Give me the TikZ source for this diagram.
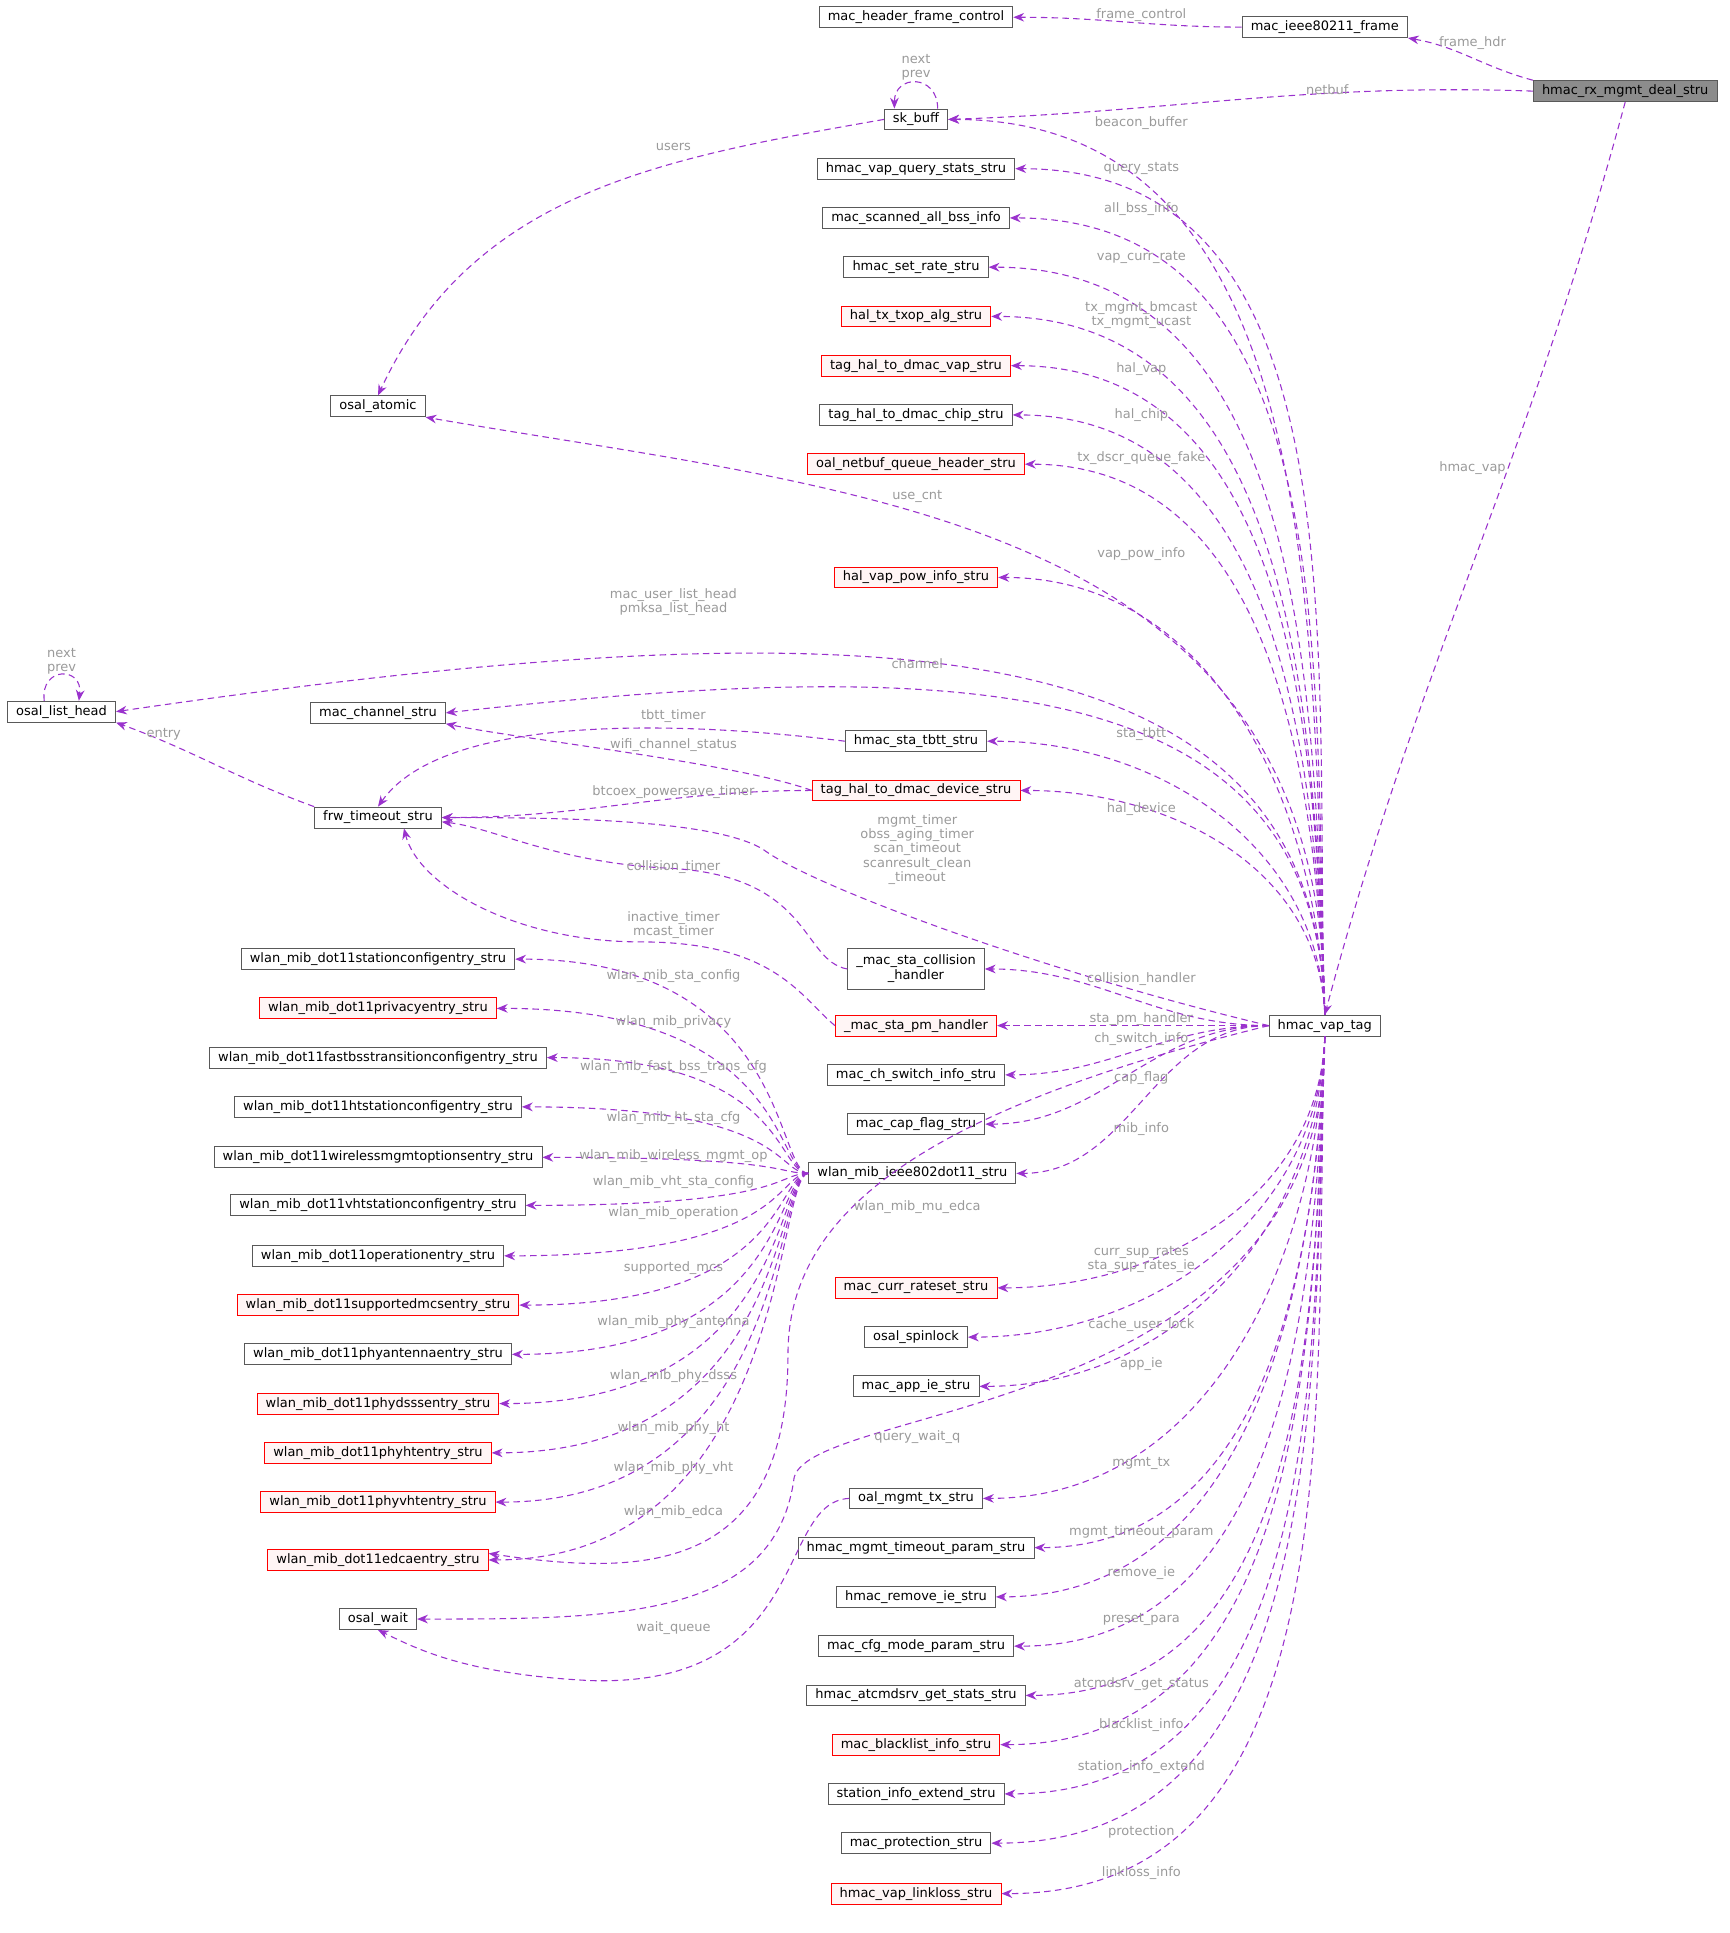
\documentclass[tikz,border=0pt]{standalone}
\usepackage{fontspec}
\setmainfont{DejaVu Sans}
\usetikzlibrary{arrows.meta}
\definecolor{ec}{HTML}{9A32CD}
\definecolor{lc}{HTML}{9A9A9A}
\begin{document}
\begin{tikzpicture}[x=0.02cm,y=-0.02cm,
 box/.style={draw=black!65,fill=white,font=\fontsize{6}{7}\selectfont,inner xsep=4pt,inner ysep=1pt,minimum height=0.34cm,line width=0.4pt,align=center},
 rbox/.style={box,draw=red,fill=red!4},
 gbox/.style={box,fill=black!45},
 e/.style={draw=ec,line width=0.5pt,dash pattern=on 3pt off 2pt,-{Stealth[length=5pt,width=4pt]}},
 l/.style={text=lc,font=\fontsize{6}{6.5}\selectfont,align=center,inner sep=0pt}]
\useasboundingbox (0,0) rectangle (1405,1570);
\coordinate (cx) at (640,0);
% nodes
\node[box] (hfc) at (744,14) {mac\_header\_frame\_control};
\node[box] (fr) at (1076,22) {mac\_ieee80211\_frame};
\node[gbox] (rx) at (1320,74) {hmac\_rx\_mgmt\_deal\_stru};
\node[box] (sk) at (744,97) {sk\_buff};
\node[box] (qs) at (744,137) {hmac\_vap\_query\_stats\_stru};
\node[box] (sab) at (744,177) {mac\_scanned\_all\_bss\_info};
\node[box] (sr) at (744,217) {hmac\_set\_rate\_stru};
\node[rbox] (txop) at (744,257) {hal\_tx\_txop\_alg\_stru};
\node[rbox] (hvap) at (744,297) {tag\_hal\_to\_dmac\_vap\_stru};
\node[box] (hchip) at (744,337) {tag\_hal\_to\_dmac\_chip\_stru};
\node[rbox] (nq) at (744,377) {oal\_netbuf\_queue\_header\_stru};
\node[box] (oa) at (307,330) {osal\_atomic};
\node[rbox] (pow) at (744,469) {hal\_vap\_pow\_info\_stru};
\node[box] (olh) at (50,578) {osal\_list\_head};
\node[box] (mch) at (307,579) {mac\_channel\_stru};
\node[box] (tbtt) at (744,602) {hmac\_sta\_tbtt\_stru};
\node[rbox] (dev) at (744,642) {tag\_hal\_to\_dmac\_device\_stru};
\node[box] (frw) at (307,664) {frw\_timeout\_stru};
\node[box,minimum height=0.66cm] (col) at (744,787) {\_mac\_sta\_collision\\\_handler};
\node[rbox] (pm) at (744,833) {\_mac\_sta\_pm\_handler};
\node[box] (hv) at (1076,833) {hmac\_vap\_tag};
\node[box] (chs) at (744,873) {mac\_ch\_switch\_info\_stru};
\node[box] (cap) at (744,913) {mac\_cap\_flag\_stru};
\node[box] (wl) at (741,953) {wlan\_mib\_ieee802dot11\_stru};
\node[box] (m1) at (307,779) {wlan\_mib\_dot11stationconfigentry\_stru};
\node[rbox] (m2) at (307,819) {wlan\_mib\_dot11privacyentry\_stru};
\node[box] (m3) at (307,859) {wlan\_mib\_dot11fastbsstransitionconfigentry\_stru};
\node[box] (m4) at (307,899) {wlan\_mib\_dot11htstationconfigentry\_stru};
\node[box] (m5) at (307,940) {wlan\_mib\_dot11wirelessmgmtoptionsentry\_stru};
\node[box] (m6) at (307,979) {wlan\_mib\_dot11vhtstationconfigentry\_stru};
\node[box] (m7) at (307,1020) {wlan\_mib\_dot11operationentry\_stru};
\node[rbox] (m8) at (307,1060) {wlan\_mib\_dot11supportedmcsentry\_stru};
\node[box] (m9) at (307,1100) {wlan\_mib\_dot11phyantennaentry\_stru};
\node[rbox] (m10) at (307,1140) {wlan\_mib\_dot11phydsssentry\_stru};
\node[rbox] (m11) at (307,1180) {wlan\_mib\_dot11phyhtentry\_stru};
\node[rbox] (m12) at (307,1220) {wlan\_mib\_dot11phyvhtentry\_stru};
\node[rbox] (ed) at (307,1267) {wlan\_mib\_dot11edcaentry\_stru};
\node[box] (ow) at (307,1315) {osal\_wait};
\node[rbox] (crs) at (744,1046) {mac\_curr\_rateset\_stru};
\node[box] (spl) at (744,1086) {osal\_spinlock};
\node[box] (aie) at (744,1126) {mac\_app\_ie\_stru};
\node[box] (omt) at (744,1217) {oal\_mgmt\_tx\_stru};
\node[box] (mtp) at (744,1257) {hmac\_mgmt\_timeout\_param\_stru};
\node[box] (rie) at (744,1297) {hmac\_remove\_ie\_stru};
\node[box] (cmp) at (744,1337) {mac\_cfg\_mode\_param\_stru};
\node[box] (ats) at (744,1377) {hmac\_atcmdsrv\_get\_stats\_stru};
\node[rbox] (bl) at (744,1417) {mac\_blacklist\_info\_stru};
\node[box] (sie) at (744,1457) {station\_info\_extend\_stru};
\node[box] (prot) at (744,1497) {mac\_protection\_stru};
\node[rbox] (ll) at (744,1538) {hmac\_vap\_linkloss\_stru};
% edges
\draw[e] (rx.north west) to[out=165,in=-10] (fr.south east);
\draw[e] (fr.west) to[out=180,in=0] (hfc.east);
\draw[e] (rx.west) to[out=178,in=2] (sk.east);
\draw[e] (rx.south) to[out=-105,in=75] (hv.north);
\draw[e] ([xshift=10pt]sk.north) .. controls +(0,16pt) and +(0,16pt) .. ([xshift=-10pt]sk.north);
\draw[e] (sk.west) to[out=190,in=65] (oa.north);
\foreach \t in {sk,qs,sab,sr,txop,hvap,hchip,nq,pow,tbtt,dev}
  \draw[e] (hv.north) to[out=92,in=0] (\t.east);
\draw[e] (hv.north) .. controls (1076,420) and (700,400) .. (oa.south east);
\draw[e] (hv.north) .. controls (1070,500) and (700,490) .. (olh.east);
\draw[e] (hv.north) .. controls (1070,550) and (800,530) .. (mch.east);
\draw[e] ([xshift=-8pt]olh.north) .. controls +(-2pt,16pt) and +(2pt,16pt) .. ([xshift=8pt]olh.north);
\draw[e] (tbtt.west) .. controls (550,585) and (360,580) .. (frw.north);
\draw[e] (dev.west) .. controls (600,620) and (420,600) .. (mch.south east);
\draw[e] (dev.west) to[out=180,in=0] (frw.east);
\draw[e] (frw.north west) to[out=160,in=-20] (olh.south east);
\draw[e] (hv.west) .. controls (850,790) and (660,720) .. (620,690) .. controls (580,665) and (450,664) .. (frw.east);
\draw[e] (col.west) .. controls (650,780) and (660,710) .. (540,705) .. controls (450,700) and (400,672) .. ([yshift=-2pt]frw.east);
\draw[e] (pm.west) .. controls (650,810) and (630,765) .. (520,765) .. controls (420,765) and (340,720) .. ([xshift=12pt]frw.south);
\foreach \t in {col,pm,chs,cap,wl}
  \draw[e] (hv.west) to[out=180,in=0] (\t.east);
\foreach \t in {m1,m2,m3,m4,m5,m6,m7,m8,m9,m10,m11,m12,ed}
  \draw[e] (wl.west) .. controls (630,953) and (cx |- \t.east) .. (\t.east);
\draw[e] (hv.west) .. controls (760,900) and (640,980) .. (640,1100) .. controls (640,1280) and (520,1280) .. ([yshift=3pt]ed.east);
\draw[e] (hv.south) .. controls (1076,1150) and (660,1140) .. (645,1200) .. controls (630,1315) and (500,1315) .. (ow.east);
\draw[e] (omt.west) .. controls (630,1220) and (660,1370) .. (480,1365) .. controls (380,1360) and (340,1340) .. (ow.south);
\foreach \t in {crs,spl,aie,omt,mtp,rie,cmp,ats,bl,sie,prot,ll}
  \draw[e] (hv.south) to[out=-92,in=0] (\t.east);
% labels
\node[l] (L1) at (1196,35) {frame\_hdr};
\node[l] (L2) at (927,12) {frame\_control};
\node[l] (L3) at (1078,73) {netbuf};
\node[l] (L4) at (1196,380) {hmac\_vap};
\node[l] (L5) at (744,55) {next\\prev};
\node[l] (L6) at (547,119) {users};
\node[l] (L7) at (927,100) {beacon\_buffer};
\node[l] (L8) at (927,137) {query\_stats};
\node[l] (L9) at (927,170) {all\_bss\_info};
\node[l] (L10) at (927,209) {vap\_curr\_rate};
\node[l] (L11) at (927,256) {tx\_mgmt\_bmcast\\tx\_mgmt\_ucast};
\node[l] (L12) at (927,300) {hal\_vap};
\node[l] (L13) at (927,337) {hal\_chip};
\node[l] (L14) at (927,372) {tx\_dscr\_queue\_fake};
\node[l] (L15) at (745,403) {use\_cnt};
\node[l] (L16) at (927,450) {vap\_pow\_info};
\node[l] (L17) at (547,489) {mac\_user\_list\_head\\pmksa\_list\_head};
\node[l] (L18) at (50,537) {next\\prev};
\node[l] (L19) at (745,539) {channel};
\node[l] (L20) at (547,582) {tbtt\_timer};
\node[l] (L21) at (547,605) {wifi\_channel\_status};
\node[l] (L22) at (547,643) {btcoex\_powersave\_timer};
\node[l] (L23) at (133,596) {entry};
\node[l] (L24) at (927,596) {sta\_tbtt};
\node[l] (L25) at (927,657) {hal\_device};
\node[l] (L26) at (745,690) {mgmt\_timer\\obss\_aging\_timer\\scan\_timeout\\scanresult\_clean\\\_timeout};
\node[l] (L27) at (547,704) {collision\_timer};
\node[l] (L28) at (547,751) {inactive\_timer\\mcast\_timer};
\node[l] (L29) at (927,795) {collision\_handler};
\node[l] (L30) at (927,828) {sta\_pm\_handler};
\node[l] (L31) at (927,844) {ch\_switch\_info};
\node[l] (L32) at (927,876) {cap\_flag};
\node[l] (L33) at (927,917) {mib\_info};
\node[l] (L34) at (547,793) {wlan\_mib\_sta\_config};
\node[l] (L35) at (547,830) {wlan\_mib\_privacy};
\node[l] (L36) at (547,867) {wlan\_mib\_fast\_bss\_trans\_cfg};
\node[l] (L37) at (547,908) {wlan\_mib\_ht\_sta\_cfg};
\node[l] (L38) at (547,939) {wlan\_mib\_wireless\_mgmt\_op};
\node[l] (L39) at (547,960) {wlan\_mib\_vht\_sta\_config};
\node[l] (L40) at (547,985) {wlan\_mib\_operation};
\node[l] (L41) at (547,1030) {supported\_mcs};
\node[l] (L42) at (547,1074) {wlan\_mib\_phy\_antenna};
\node[l] (L43) at (547,1118) {wlan\_mib\_phy\_dsss};
\node[l] (L44) at (547,1160) {wlan\_mib\_phy\_ht};
\node[l] (L45) at (547,1192) {wlan\_mib\_phy\_vht};
\node[l] (L46) at (547,1228) {wlan\_mib\_edca};
\node[l] (L47) at (745,980) {wlan\_mib\_mu\_edca};
\node[l] (L48) at (927,1023) {curr\_sup\_rates\\sta\_sup\_rates\_ie};
\node[l] (L49) at (927,1076) {cache\_user\_lock};
\node[l] (L50) at (927,1108) {app\_ie};
\node[l] (L51) at (745,1167) {query\_wait\_q};
\node[l] (L52) at (547,1322) {wait\_queue};
\node[l] (L53) at (927,1189) {mgmt\_tx};
\node[l] (L54) at (927,1244) {mgmt\_timeout\_param};
\node[l] (L55) at (927,1278) {remove\_ie};
\node[l] (L56) at (927,1315) {preset\_para};
\node[l] (L57) at (927,1368) {atcmdsrv\_get\_status};
\node[l] (L58) at (927,1401) {blacklist\_info};
\node[l] (L59) at (927,1435) {station\_info\_extend};
\node[l] (L60) at (927,1488) {protection};
\node[l] (L61) at (927,1521) {linkloss\_info};
\end{tikzpicture}
\end{document}
